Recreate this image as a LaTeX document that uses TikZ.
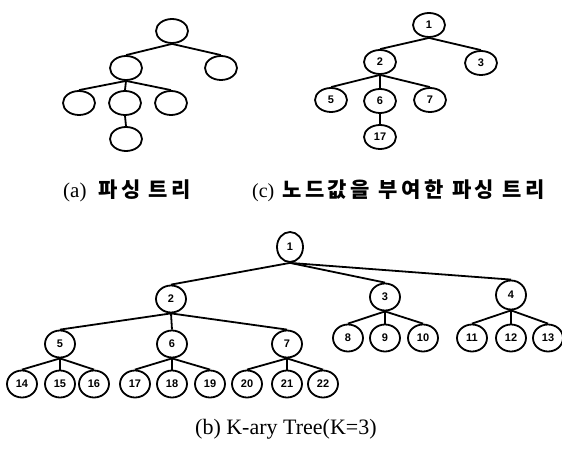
\documentclass[tikz,border=0pt]{standalone}
\usepackage{fontspec}
\setmainfont{Liberation Serif}
\newfontfamily\kfont[LetterSpace=17]{Noto Sans CJK KR}
\newfontfamily\numfont{Liberation Sans}
\usetikzlibrary{shapes.geometric}
\begin{document}
\begin{tikzpicture}[x=1pt,y=-1pt,
  tn/.style={draw, ellipse, line width=1.8pt, minimum width=32pt, minimum height=24pt, inner sep=0pt,
    font=\numfont\bfseries\fontsize{11}{11}\selectfont},
  kn/.style={tn, minimum width=30pt, minimum height=27pt},
  ed/.style={line width=1.8pt},
  captext/.style={anchor=base west, inner sep=0pt, font=\fontsize{20}{22}\selectfont},
  kcap/.style={anchor=base west, inner sep=0pt, font=\kfont\bfseries\fontsize{21}{22}\selectfont}]
\useasboundingbox (0,0) rectangle (562,449);
% (a)
\node[tn] (a1) at (172,31) {};
\node[tn] (a2) at (126,68) {};
\node[tn] (a3) at (221,68) {};
\node[tn] (a4) at (79,103) {};
\node[tn] (a5) at (125,103) {};
\node[tn] (a6) at (171,103) {};
\node[tn] (a7) at (126,139) {};
\draw[ed] (a1.south) -- (a2.north);
\draw[ed] (a1.south) -- (a3.north);
\draw[ed] (a2.south) -- (a4.north);
\draw[ed] (a2.south) -- (a5.north);
\draw[ed] (a2.south) -- (a6.north);
\draw[ed] (a5.south) -- (a7.north);
% (c)
\node[tn] (c1) at (429,25) {1};
\node[tn] (c2) at (380,62) {2};
\node[tn] (c3) at (481,63) {3};
\node[tn] (c5) at (331,100) {5};
\node[tn] (c6) at (380,101) {6};
\node[tn] (c7) at (430,100) {7};
\node[tn] (c17) at (380,137) {17};
\draw[ed] (c1.south) -- (c2.north);
\draw[ed] (c1.south) -- (c3.north);
\draw[ed] (c2.south) -- (c5.north);
\draw[ed] (c2.south) -- (c6.north);
\draw[ed] (c2.south) -- (c7.north);
\draw[ed] (c6.south) -- (c17.north);
% (b)
\node[kn, minimum width=26pt, minimum height=30pt] (b1) at (290,247) {1};
\node[kn] (b2) at (171,299) {2};
\node[kn] (b3) at (385,297) {3};
\node[kn, minimum height=29pt] (b4) at (511,295) {4};
\node[kn] (b5) at (60,344) {5};
\node[kn] (b6) at (172,344) {6};
\node[kn] (b7) at (287,344) {7};
\node[kn] (b8) at (348,338) {8};
\node[kn] (b9) at (385,338) {9};
\node[kn] (b10) at (423,338) {10};
\node[kn] (b11) at (472,338) {11};
\node[kn] (b12) at (511,338) {12};
\node[kn] (b13) at (548,338) {13};
\node[kn] (b14) at (22,384) {14};
\node[kn] (b15) at (60,384) {15};
\node[kn] (b16) at (94,384) {16};
\node[kn] (b17) at (135,384) {17};
\node[kn] (b18) at (172,384) {18};
\node[kn] (b19) at (210,384) {19};
\node[kn] (b20) at (247,384) {20};
\node[kn] (b21) at (287,384) {21};
\node[kn] (b22) at (323,384) {22};
\foreach \p/\c in {b1/b2,b1/b3,b1/b4,b2/b5,b2/b6,b2/b7,b3/b8,b3/b9,b3/b10,b4/b11,b4/b12,b4/b13,
  b5/b14,b5/b15,b5/b16,b6/b17,b6/b18,b6/b19,b7/b20,b7/b21,b7/b22}
  \draw[ed] (\p.south) -- (\c.north);
% captions
\node[captext, font=\fontsize{21}{22}\selectfont] (capa) at (63,197) {(a)};
\node[kcap] (capak) at (98,197) {파싱 트리};
\node[captext] (capc) at (252,197) {(c)};
\node[kcap] (capck) at (282,197) {노드값을 부여한 파싱 트리};
\node[captext, font=\fontsize{22}{24}\selectfont] (capb) at (195,434) {(b) K-ary Tree(K=3)};
\end{tikzpicture}
\end{document}
